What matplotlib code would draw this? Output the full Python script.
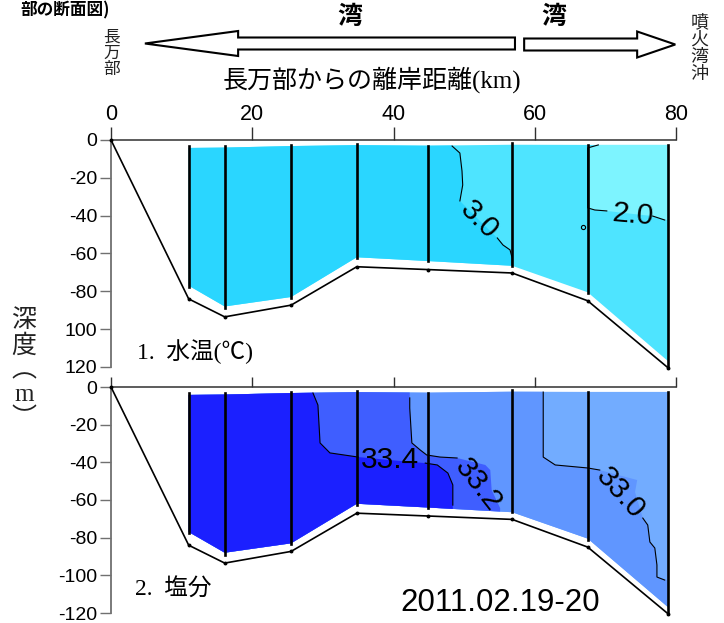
import matplotlib
matplotlib.use("Agg")
import matplotlib.pyplot as plt
from matplotlib import font_manager
from matplotlib.patches import Polygon, FancyArrow

plt.rcParams['font.family'] = ['Liberation Sans', 'Noto Sans CJK JP']

names = {f.name for f in font_manager.fontManager.ttflist}
NARROW = 'Liberation Sans Narrow' if 'Liberation Sans Narrow' in names else None
SERIF = ['Liberation Serif', 'Noto Sans CJK JP']
CJK = ['Noto Sans CJK JP', 'DejaVu Sans']

# stations: distance from Oshamambe (km) and depths (m)
station_km = [11.0, 16.1, 25.5, 34.8, 44.9, 56.8, 67.5, 78.9]
cast_top = [3.2, 3.2, 2.8, 2.3, 3.0, 1.6, 2.6, 2.6]
cast_bottom = [77.7, 89, 83.6, 62.4, 64, 66.6, 81, 120.5]
data_top = [4.2, 4.0, 3.2, 2.7, 3.0, 2.5, 2.6, 2.6]
data_bottom = [77, 88, 83, 62, 64, 66.5, 80.5, 117]
seabed_km = [0] + station_km
seabed_depth = [0, 84, 93.5, 87.3, 67, 68.5, 70.3, 85, 120.5]

# temperature contours (km, m)
t30_km = [48.3, 49.4, 49.7, 49.8, 49.4, 52.1, 54.7, 55.5, 56.5, 56.8, 56.8]
t30_dep = [3.2, 6.9, 16.4, 23.8, 32.2, 42.3, 51.8, 55.5, 58.1, 62.4, 66.1]
t20_km = [69.0, 67.5, 67.5, 68.5, 70.2, 73.9, 76.7, 78.4]
t20_dep = [2.6, 4.2, 35.9, 37.0, 37.5, 39.1, 40.2, 42.3]

# salinity contours (km, m)
s334_km = [28.6, 29.3, 29.6, 31.0, 35.0, 39.5, 44.5, 46.2, 47.7, 48.4, 48.4]
s334_dep = [3.2, 9.6, 29.7, 35.0, 37.2, 38.8, 40.4, 41.4, 45.7, 52.0, 62.7]
s332_km = [42.3, 42.3, 42.6, 43.8, 44.7, 46.6, 49.0, 53.0, 53.7, 53.9, 55.1]
s332_dep = [5.8, 11.2, 29.7, 33.5, 36.1, 37.2, 37.7, 41.4, 44.1, 54.7, 64.3]
s330_km = [61.2, 61.2, 62.9, 67.5, 69.2, 74.5, 74.2, 75.3, 76.0, 76.3, 77.0, 77.3, 77.3, 78.4]
s330_dep = [2.7, 37.2, 41.4, 43.0, 44.1, 49.4, 55.8, 69.6, 73.3, 82.3, 85.5, 94.5, 100.9, 102.5]

temp_colors = ['#2AD6FF', '#4EE4FF', '#7DF4FF']
sal_colors = ['#1B20FF', '#3F5EFF', '#6096FF', '#72ACFF']

W, H = 724, 623
fig = plt.figure(figsize=(W / 100, H / 100), dpi=100)


def narrow(size, fallback):
    if NARROW:
        return dict(family=NARROW, fontsize=size)
    return dict(family='Liberation Sans', fontsize=fallback)


def section(ax, base):
    verts = [(x, -d) for x, d in zip(station_km, data_top)]
    verts += [(x, -d) for x, d in zip(station_km[::-1], data_bottom[::-1])]
    sec = Polygon(verts, closed=True, facecolor=base, edgecolor='none', zorder=1)
    ax.add_patch(sec)
    return sec


def region(ax, sec, xs, ds, tail, color):
    verts = [(xs[0], 5)] + [(x, -d) for x, d in zip(xs, ds)] + tail
    p = Polygon(verts, closed=True, facecolor=color, edgecolor='none', zorder=1.5)
    ax.add_patch(p)
    p.set_clip_path(sec)


def cline(ax, xs, ds, gap):
    a, b = gap
    ax.plot(xs[:a + 1], [-d for d in ds[:a + 1]], color='black', lw=0.8, zorder=2)
    ax.plot(xs[b:], [-d for d in ds[b:]], color='black', lw=0.8, zorder=2)


def frame(ax, ylabels, toplabels, toplen):
    ax.set_xlim(0, 80)
    ax.set_ylim(-120, 0)
    for s in ('bottom', 'right'):
        ax.spines[s].set_visible(False)
    ax.spines['left'].set_color('#707070')
    ax.spines['left'].set_linewidth(1.3)
    ax.spines['top'].set_color('#303030')
    ax.spines['top'].set_linewidth(1.1)
    ax.xaxis.tick_top()
    ax.set_xticks([0, 20, 40, 60, 80])
    ax.tick_params(axis='x', length=toplen, width=1, color='#303030', pad=1.5,
                   labeltop=toplabels, labelbottom=False)
    if toplabels:
        for lab in ax.get_xticklabels():
            lab.set(**narrow(17, 15.5))
    ax.set_yticks([0, -20, -40, -60, -80, -100, -120])
    ax.set_yticklabels(ylabels, fontsize=14)
    ax.tick_params(axis='y', length=8, width=1, color='#707070', pad=2)
    ax.patch.set_alpha(0)


def stations(ax):
    for x, t, b in zip(station_km, cast_top, cast_bottom):
        ax.plot([x, x], [-t, -b], color='black', lw=1.9, zorder=3, clip_on=False)
    ax.plot(seabed_km, [-d for d in seabed_depth], color='black', lw=1.2,
            marker='o', markersize=1.8, zorder=3, clip_on=False)


# panel 1: temperature
ax1 = fig.add_axes([111 / W, 1 - 367 / H, 565 / W, 227 / H])
sec1 = section(ax1, temp_colors[1])
region(ax1, sec1, t30_km, t30_dep, [(t30_km[-1], -130), (-5, -130), (-5, 5)], temp_colors[0])
region(ax1, sec1, t20_km, t20_dep, [(85, -t20_dep[-1]), (85, 5)], temp_colors[2])
cline(ax1, t30_km, t30_dep, (4, 6))
cline(ax1, t20_km, t20_dep, (4, 6))
ax1.plot([66.8], [-46], marker='o', markersize=3, mfc='none', mec='black', mew=0.8, zorder=2)
stations(ax1)
frame(ax1, ['0', '-20', '-40', '-60', '-80', '100', '120'], True, 9.5)
ax1.text(52.1, -42.3, '3.0', rotation=-45, ha='center', va='center', zorder=4, **narrow(24, 21.5))
ax1.text(73.9, -39.3, '2.0', rotation=-5, ha='center', va='center', zorder=4, **narrow(24, 21.5))
ax1.text(3.7, -112, '1.  水温(℃)', family=SERIF, fontsize=17, ha='left', va='center')

# panel 2: salinity
ax2 = fig.add_axes([111 / W, 1 - 613 / H, 565 / W, 226 / H])
sec2 = section(ax2, sal_colors[3])
region(ax2, sec2, s330_km, s330_dep,
       [(85, -s330_dep[-1]), (85, -130), (-5, -130), (-5, 5)], sal_colors[2])
region(ax2, sec2, s332_km, s332_dep, [(s332_km[-1], -130), (-5, -130), (-5, 5)], sal_colors[1])
region(ax2, sec2, s334_km, s334_dep, [(s334_km[-1], -130), (-5, -130), (-5, 5)], sal_colors[0])
cline(ax2, s334_km, s334_dep, (4, 6))
cline(ax2, s332_km, s332_dep, (6, 10))
cline(ax2, s330_km, s330_dep, (4, 7))
stations(ax2)
frame(ax2, ['0', '-20', '-40', '-60', '-80', '-100', '-120'], False, 7)
ax2.text(39.5, -38.8, '33.4', ha='center', va='center', zorder=4, **narrow(24, 21.5))
ax2.text(52.0, -52.0, '33.2', rotation=-52, ha='center', va='center', zorder=4, **narrow(24, 21.5))
ax2.text(72.1, -56.3, '33.0', rotation=-48, ha='center', va='center', zorder=4, **narrow(24, 21.5))
ax2.text(3.4, -107.8, '2.  塩分', family=SERIF, fontsize=17, ha='left', va='center')
ax2.text(55.1, -114.7, '2011.02.19-20', fontsize=22.5, ha='center', va='center')

# header: direction arrows and labels (x in km, y in pixel rows)
hdr = fig.add_axes([111 / W, 1 - 100 / H, 565 / W, 100 / H])
hdr.set_xlim(0, 80)
hdr.set_ylim(100, 0)
hdr.axis('off')
hdr.add_patch(FancyArrow(57.2, 43.5, -52.4, 0, width=12, head_width=25, head_length=13.2,
                         length_includes_head=True, facecolor='white', edgecolor='black', lw=1.5))
hdr.add_patch(FancyArrow(58.5, 44.5, 21.4, 0, width=12, head_width=26, head_length=5.4,
                         length_includes_head=True, facecolor='white', edgecolor='black', lw=1.5))
hdr.text(33.8, 17, '湾', family=CJK, fontsize=18, fontweight='bold', ha='center', va='center')
hdr.text(62.7, 17, '湾', family=CJK, fontsize=18, fontweight='bold', ha='center', va='center')
hdr.text(0.1, 53, '長\n万\n部', family=CJK, fontsize=12, color='#222222',
         linespacing=0.95, ha='center', va='center')
hdr.text(83.3, 48.5, '噴\n火\n湾\n沖', family=CJK, fontsize=13, color='#222222',
         linespacing=0.95, ha='center', va='center', clip_on=False)
hdr.text(37.0, 80, '長万部からの離岸距離(km)', family=SERIF, fontsize=18,
         ha='center', va='center')
hdr.text(-12.9, 1.0, '部の断面図)', family=CJK, fontsize=12, fontweight='bold',
         ha='left', va='top', clip_on=False)

fig.text(24 / W, 1 - 370 / H, '深\n度\n︵\nm\n︶', family=SERIF, fontsize=18,
         color='#222222', linespacing=1.12, ha='center', va='center')

fig.savefig('out.png', dpi=100)
